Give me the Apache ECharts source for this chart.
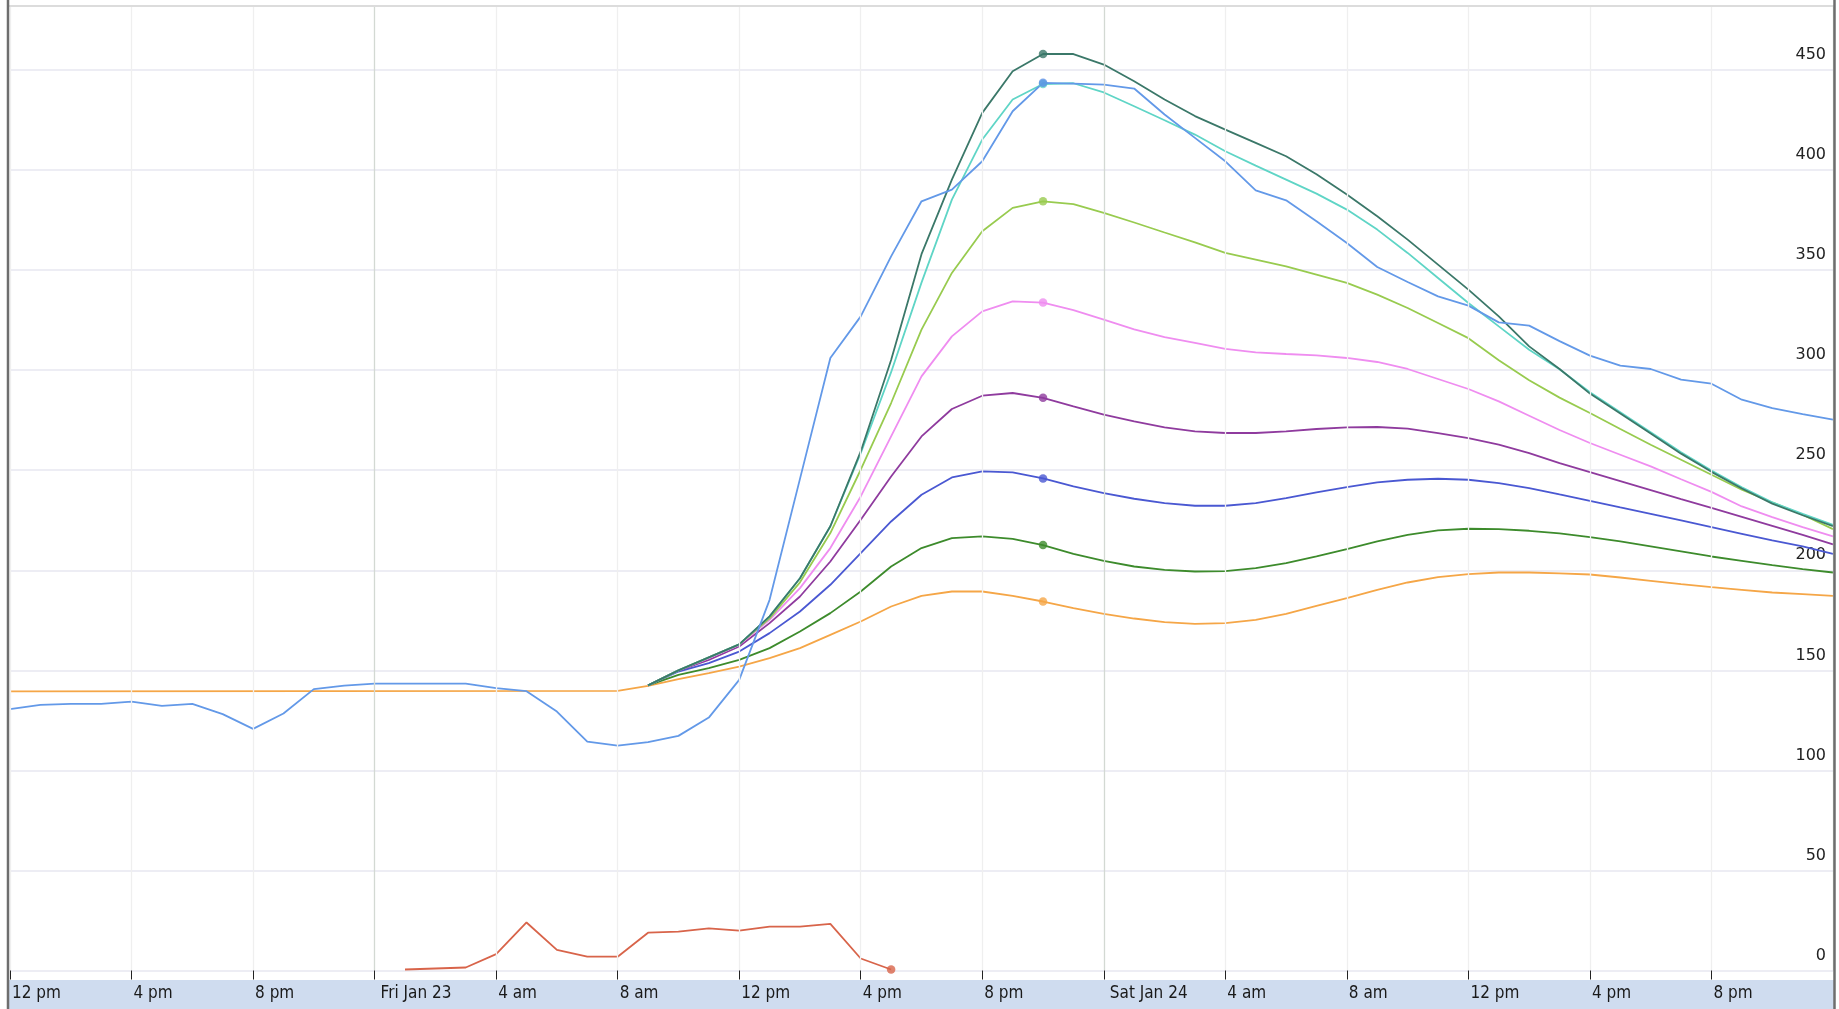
<!DOCTYPE html>
<html>
<head>
<meta charset="utf-8">
<script src="https://cdn.jsdelivr.net/npm/echarts@6/dist/echarts.min.js"></script>
<style>
html,body{margin:0;padding:0;background:#fff;}
#chart{width:1839px;height:1009px;}
</style>
</head>
<body>
<div id="chart"></div>
<script>
// Hours are counted from Fri Jan 23, 00:00
const tickHours = [-12,-8,-4,0,4,8,12,16,20,24,28,32,36,40,44];
const tickLabels = ['12 pm','4 pm','8 pm','Fri Jan 23','4 am','8 am','12 pm','4 pm','8 pm','Sat Jan 24','4 am','8 am','12 pm','4 pm','8 pm'];

// Observed, hourly from hour -12 to 48
const observedStart = -12;
const observed = [130.6,132.75,133.25,133.25,134.4,132.25,133.25,128.1,120.75,128.4,140.6,142.4,
  143.4,143.4,143.4,143.4,141.1,139.6,129.4,114.4,112.4,114.1,117.25,126.4,
  145.25,185.25,245.7,306.1,326.9,356.9,384.4,390.25,404.4,429.4,443.6,443.25,
  442.75,440.75,427.75,416.1,404.4,389.9,384.9,374.4,363.6,351.6,344.1,336.9,
  332.25,323.9,322.25,314.5,307.25,302.25,300.6,295.25,293.25,285.25,281.1,278.1,275.25];

// Orange leading flat part (hour, value)
const orangeLead = [[-12,139.5],[8,139.7]];

// Forecast traces, hourly from hour 9 to 48
const forecastStart = 9;
const fOrange = [142.25,145.6,148.6,151.9,156.1,161.1,167.75,174.4,181.9,187.25,189.4,189.4,187.25,184.4,181.1,178.25,175.9,174.1,173.25,173.6,175.25,178.25,182.25,186.1,190.25,193.9,196.6,198.1,198.9,198.9,198.5,197.9,196.4,194.75,193.1,191.6,190.25,188.9,188.1,187.25];
const fGreen = [142.5,147.75,151.1,155.25,161.1,169.4,178.6,189.4,201.9,211.1,216.1,216.9,215.75,212.6,208.25,204.75,201.9,200.25,199.4,199.6,201.1,203.6,206.9,210.6,214.4,217.75,219.9,220.75,220.6,219.75,218.4,216.6,214.4,211.9,209.4,206.9,204.75,202.6,200.6,198.9];
const fIndigo = [142.5,149.4,153.6,159.4,168.6,179.4,192.75,208.6,224.4,237.75,246.4,249.4,248.9,245.9,241.9,238.6,235.75,233.6,232.25,232.25,233.6,236.1,238.9,241.6,243.9,245.25,245.75,245.25,243.6,241.1,237.9,234.75,231.4,228.25,224.9,221.6,218.25,214.9,211.9,208.25];
const fPurple = [142.5,149.9,155.25,161.9,173.6,186.9,204.4,225.25,246.9,266.9,280.6,287.25,288.6,286.2,281.9,277.75,274.4,271.4,269.4,268.6,268.6,269.4,270.6,271.4,271.6,270.75,268.6,266.1,262.75,258.6,253.6,249.1,244.6,240.1,235.6,231.2,226.7,222.2,217.7,213];
const fPink = [142.5,150,156.1,162.75,175.25,191.1,211.1,236.9,266.9,296.9,316.9,329.4,334.4,333.8,330,325.25,320.4,316.5,313.6,310.6,308.9,308.1,307.4,306.1,304.1,300.6,295.6,290.6,284.4,277.25,270.1,263.6,257.75,251.9,245.5,239.2,231.9,226.6,221.6,216.9];
const fLightGreen = [142.5,150,156.5,163,176,194,218.6,250.25,283.6,320.25,348.6,369.4,381.1,384.4,383,378.6,373.8,368.8,363.9,358.6,355.25,351.9,347.75,343.6,337.75,331.1,323.6,316,305,295,286.3,278.6,270.6,262.75,255.25,247.75,240.25,233.9,227.75,220.6];
const fTeal = [142.5,150,156.5,163,177,196,222,258.5,299,343.75,385.25,415.25,435.25,443,443.4,438.8,431.9,424.9,417.75,409.4,402.25,395.25,388.25,380.25,370.25,358.6,346.1,333.6,321.9,310.25,300.5,289,279,269,259,249.8,241.5,234,228.2,222.75];
const fDarkTeal = [142.5,150,156.5,163,177,196,222,259.4,305.1,358,395.25,428.6,449.4,458,458,452.75,444.4,435.25,427,420.25,413.6,406.9,397.9,387.75,376.9,365.25,352.75,340.25,326.9,311.9,300.6,288.3,278.3,268.3,258.3,249.2,240.9,233.3,227.5,222.1];

// Small red trace (hour, value)
const redTrace = [[1,0.5],[3,1.5],[4,8.2],[5,24],[6,10.3],[7,6.9],[8,6.9],[9,18.9],[10,19.4],[11,21.1],[12,19.9],[13,21.9],[14,21.9],[15,23.3],[16,6],[17,0.5]];

const markerHour = 22;

const C = {
  observed:'#6399e8', orange:'#f5a647', green:'#3d8b2c', indigo:'#4a58d2', purple:'#8f3b9e',
  pink:'#ef8df0', lightGreen:'#98cb4f', teal:'#5fd5c6', darkTeal:'#3b7869', red:'#d8644a'
};

function hourly(start, vals){ return vals.map((v,i)=>[start+i, v]); }
function valAt(start, vals, h){ return vals[h-start]; }

const traces = [
  {name:'orange', color:C.orange, data: orangeLead.concat(hourly(forecastStart,fOrange)), vals:fOrange},
  {name:'green', color:C.green, data: hourly(forecastStart,fGreen), vals:fGreen},
  {name:'indigo', color:C.indigo, data: hourly(forecastStart,fIndigo), vals:fIndigo},
  {name:'purple', color:C.purple, data: hourly(forecastStart,fPurple), vals:fPurple},
  {name:'pink', color:C.pink, data: hourly(forecastStart,fPink), vals:fPink},
  {name:'lightGreen', color:C.lightGreen, data: hourly(forecastStart,fLightGreen), vals:fLightGreen},
  {name:'teal', color:C.teal, data: hourly(forecastStart,fTeal), vals:fTeal},
  {name:'darkTeal', color:C.darkTeal, data: hourly(forecastStart,fDarkTeal), vals:fDarkTeal}
];

const series = [];
traces.forEach((t,i)=>{
  series.push({type:'line', name:t.name, data:t.data, symbol:'none', z:2+i*0.01,
    lineStyle:{color:t.color, width:1.8}, itemStyle:{color:t.color}, animation:false});
});
series.push({type:'line', name:'observed', data:hourly(observedStart, observed), symbol:'none', z:2.2,
  lineStyle:{color:C.observed, width:1.8}, animation:false});
series.push({type:'line', name:'red', data:redTrace, symbol:'none', z:2.2,
  lineStyle:{color:C.red, width:1.8}, animation:false});
// markers
traces.forEach(t=>{
  series.push({type:'scatter', data:[[markerHour, valAt(forecastStart,t.vals,markerHour)]], symbolSize:8.5,
    itemStyle:{color:t.color}, z:3, animation:false});
});
series.push({type:'scatter', data:[[markerHour, valAt(observedStart, observed, markerHour)]], symbolSize:8.5,
  itemStyle:{color:'#5b90e6'}, z:3.1, animation:false});
series.push({type:'scatter', data:[redTrace[redTrace.length-1]], symbolSize:8.5,
  itemStyle:{color:C.red}, z:3.1, animation:false});

const chart = echarts.init(document.getElementById('chart'), null, {renderer:'canvas'});
chart.setOption({
  animation:false,
  backgroundColor:'#ffffff',
  grid:{left:10, right:6, top:6, bottom:38.5, containLabel:false},
  xAxis:{
    type:'value', min:-12, max:48, interval:4, z:10,
    axisLine:{show:false},
    axisTick:{show:true, length:9, lineStyle:{color:'#222', width:1}},
    axisLabel:{
      show:true, align:'left', margin:15, showMaxLabel:false,
      fontFamily:'"DejaVu Sans Condensed","Liberation Sans Narrow",sans-serif', fontSize:17, color:'#1a1a1a',
      formatter:function(v){
        const k = tickHours.indexOf(Math.round(v));
        if (k < 0) return '';
        const s = tickLabels[k];
        return (Math.round(v) % 24 === 0) ? '{d|' + s + '}' : '{n|' + s + '}';
      },
      rich:{
        d:{padding:[0,0,0,6], fontFamily:'"DejaVu Sans Condensed","Liberation Sans Narrow",sans-serif', fontSize:17, color:'#1a1a1a'},
        n:{padding:[0,0,0,2], fontFamily:'"DejaVu Sans Condensed","Liberation Sans Narrow",sans-serif', fontSize:17, color:'#1a1a1a'}
      }
    },
    splitLine:{show:true, lineStyle:{color:['#efefef','#efefef','#efefef','#d3d9d3','#efefef','#efefef'], width:1.3}}
  },
  yAxis:{
    type:'value', min:0, max:482, interval:50, position:'right',
    axisLine:{show:false}, axisTick:{show:false},
    axisLabel:{inside:true, margin:7, showMaxLabel:false, verticalAlign:'middle', lineHeight:30,
      formatter:function(v){ return v + '\n'; },
      fontFamily:'"DejaVu Sans",sans-serif', fontSize:16, color:'#222'},
    splitLine:{show:true, lineStyle:{color:'#e7e7f0', width:1.5}}
  },
  graphic:[
    {type:'rect', z:-1, shape:{x:9, y:980, width:1825, height:29}, style:{fill:'#cfdcef'}},
    {type:'line', z:50, shape:{x1:8, y1:6, x2:1834, y2:6}, style:{stroke:'#dcdcdc', lineWidth:2}},
    {type:'line', z:50, shape:{x1:8, y1:0, x2:8, y2:1009}, style:{stroke:'#6e6e6e', lineWidth:2.5}},
    {type:'line', z:50, shape:{x1:1834.5, y1:0, x2:1834.5, y2:1009}, style:{stroke:'#6e6e6e', lineWidth:2.5}}
  ],
  series: series
});
</script>
</body>
</html>
